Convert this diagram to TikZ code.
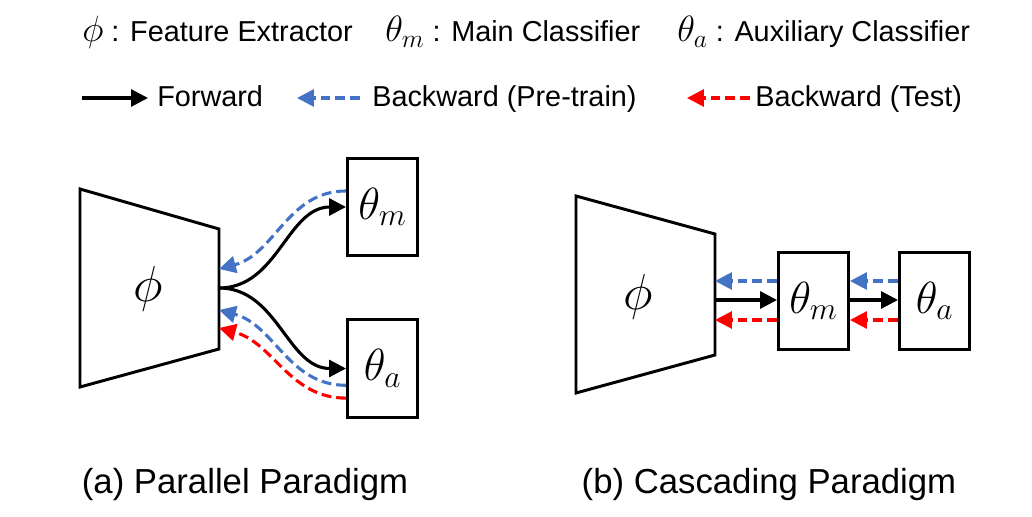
\documentclass[tikz,border=0pt]{standalone}
\usepackage{fix-cm}
\usepackage{fontspec}
\setmainfont{Liberation Sans}
\usetikzlibrary{arrows.meta}
\definecolor{bwdblue}{RGB}{68,114,196}
\definecolor{bwdred}{RGB}{255,0,0}
\newcommand{\keysym}[1]{{\fontsize{26}{30}\selectfont$#1$}}
\tikzstyle{extractor} = [draw, line width=2.1pt, line join=miter]
\tikzstyle{bigsym} = [font=\fontsize{36}{40}\selectfont]
\tikzstyle{clsbox} = [rectangle, draw, line width=2.1pt, minimum width=1.75cm, minimum height=2.43cm, inner sep=0pt, font=\fontsize{32}{36}\selectfont]
\tikzstyle{keytext} = [anchor=base west, inner sep=0pt, font=\fontsize{20.5}{24}\selectfont]
\tikzstyle{caption} = [anchor=base, inner sep=0pt, font=\fontsize{24.7}{28}\selectfont]
\tikzstyle{fwdarrow} = [line width=2.2pt, -{Triangle[length=12pt,width=12pt]}]
\tikzstyle{bwdpre} = [line width=2.2pt, bwdblue, dash pattern=on 7pt off 3.5pt, -{Triangle[length=12pt,width=12pt]}]
\tikzstyle{bwdtest} = [line width=2.2pt, bwdred, dash pattern=on 7pt off 3.5pt, -{Triangle[length=12pt,width=12pt]}]

\begin{document}
\begin{tikzpicture}[x=0.025cm, y=-0.025cm]
    \useasboundingbox (0,0) rectangle (1032,517);

    % legend
    \node [keytext] at (82,42) (keyphi) {\keysym{\phi} : Feature Extractor};
    \node [keytext] at (385,42) (keymain) {\keysym{\theta_m} : Main Classifier};
    \node [keytext] at (677,42) (keyaux) {\keysym{\theta_a} : Auxiliary Classifier};
    \node [keytext] at (157,107) (keyfwd) {Forward};
    \node [keytext] at (372,107) (keypre) {Backward (Pre-train)};
    \node [keytext] at (755,107) (keytest) {Backward (Test)};
    \coordinate (fwdtail) at (82,98);
    \coordinate (fwdtip) at (148,98);
    \coordinate (pretail) at (360,98);
    \coordinate (pretip) at (297,98);
    \coordinate (testtail) at (750,98);
    \coordinate (testtip) at (687,98);
    \draw [fwdarrow] (fwdtail) -- (fwdtip);
    \draw [bwdpre] (pretail) -- (pretip);
    \draw [bwdtest] (testtail) -- (testtip);

    % (a) parallel
    \draw [extractor] (80,189) -- (219,229) -- (219,349) -- (80,387) -- cycle;
    \node [bigsym] at (148,289) (phiA) {$\phi$};
    \node [clsbox] at (382.5,207) (mainA) {$\theta_m$};
    \node [clsbox] at (382.5,368.5) (auxA) {$\theta_a$};
    \coordinate (outA) at (219,288);
    \coordinate (preA1) at (219,269);
    \coordinate (preA2) at (219,310);
    \coordinate (testA) at (219,328);

    \draw [fwdarrow] (outA) to[out=0, in=180] (mainA.west);
    \draw [fwdarrow] (outA) to[out=0, in=180] (auxA.west);
    \draw [bwdpre] ([yshift=0.4cm]mainA.west) to[out=180, in=15] (preA1);
    \draw [bwdpre] ([yshift=-0.42cm]auxA.west) to[out=180, in=-15] (preA2);
    \draw [bwdtest] ([yshift=-0.74cm]auxA.west) to[out=180, in=-15] (testA);

    % (b) cascading
    \draw [extractor] (576,196) -- (715,234) -- (715,355) -- (576,393) -- cycle;
    \node [bigsym] at (638,297) (phiB) {$\phi$};
    \node [clsbox] at (813.5,301) (mainB) {$\theta_m$};
    \node [clsbox] at (934.5,301) (auxB) {$\theta_a$};
    \coordinate (outB) at (715,300);
    \coordinate (preB) at (715,281);
    \coordinate (testB) at (715,320);

    \draw [fwdarrow] (outB) -- (outB -| mainB.west);
    \draw [bwdpre] (preB -| mainB.west) -- (preB);
    \draw [bwdtest] (testB -| mainB.west) -- (testB);
    \draw [fwdarrow] (outB -| mainB.east) -- (outB -| auxB.west);
    \draw [bwdpre] (preB -| auxB.west) -- (preB -| mainB.east);
    \draw [bwdtest] (testB -| auxB.west) -- (testB -| mainB.east);

    % captions
    \node [caption] at (245,493) (capA) {(a) Parallel Paradigm};
    \node [caption] at (769,493) (capB) {(b) Cascading Paradigm};
\end{tikzpicture}
\end{document}
